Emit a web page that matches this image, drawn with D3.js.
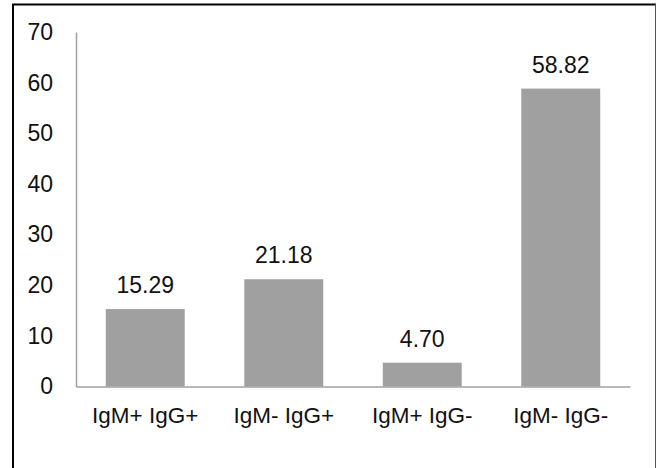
<!DOCTYPE html>
<html>
<head>
<meta charset="utf-8">
<script src="https://cdn.jsdelivr.net/npm/d3@7"></script>
<style>
  html, body { margin: 0; padding: 0; background: #fff; }
  svg { display: block; }
  text { font-family: "Liberation Sans", Arial, Helvetica, sans-serif; fill: #111; }
</style>
</head>
<body>
<svg id="chart" width="656" height="468"></svg>
<script>
// Antibody status groups and their percentages
const categories = ["IgM+ IgG+", "IgM- IgG+", "IgM+ IgG-", "IgM- IgG-"];
const values = [15.29, 21.18, 4.70, 58.82];
const yTicks = [0, 10, 20, 30, 40, 50, 60, 70];

const svg = d3.select("#chart");
const W = 656, H = 468;
const plot = { left: 76, right: 630, top: 32, bottom: 386.5 };

// Frame around the figure
svg.append("line").attr("x1", 13).attr("x2", 13).attr("y1", 4).attr("y2", H)
  .attr("stroke", "#000").attr("stroke-width", 2);
svg.append("line").attr("x1", 12).attr("x2", W).attr("y1", 4.5).attr("y2", 4.5)
  .attr("stroke", "#000").attr("stroke-width", 2);
svg.append("line").attr("x1", 655.5).attr("x2", 655.5).attr("y1", 4).attr("y2", H)
  .attr("stroke", "#555").attr("stroke-width", 1);

const x = d3.scaleBand().domain(categories).range([plot.left, plot.right]).paddingInner(0.43).paddingOuter(0.215);
const y = d3.scaleLinear().domain([0, 70]).range([plot.bottom, plot.top]);

// Bars
svg.append("g").selectAll("rect").data(values).join("rect")
  .attr("x", (d, i) => x(categories[i]))
  .attr("width", x.bandwidth())
  .attr("y", d => y(d))
  .attr("height", d => y(0) - y(d))
  .attr("fill", "#a0a0a0");

// Value labels
svg.append("g").selectAll("text").data(values).join("text")
  .attr("x", (d, i) => x(categories[i]) + x.bandwidth() / 2)
  .attr("y", d => y(d) - 16)
  .attr("text-anchor", "middle")
  .style("font-size", "23px")
  .text(d => d.toFixed(2));

// Y axis
const yAxis = d3.axisLeft(y).tickValues(yTicks).tickSize(0).tickPadding(23);
const gy = svg.append("g").attr("transform", `translate(${plot.left},0)`).call(yAxis);
gy.select(".domain").attr("stroke", "#a0a0a0").attr("stroke-width", 1.5);
gy.selectAll("text").style("font-size", "23px").attr("fill", "#111");

// X axis
const xAxis = d3.axisBottom(x).tickSize(0).tickPadding(21);
const gx = svg.append("g").attr("transform", `translate(0,${plot.bottom})`).call(xAxis);
gx.select(".domain").attr("stroke", "#a0a0a0").attr("stroke-width", 1.5);
gx.selectAll("text").style("font-size", "22.5px").attr("fill", "#111");
</script>
</body>
</html>
